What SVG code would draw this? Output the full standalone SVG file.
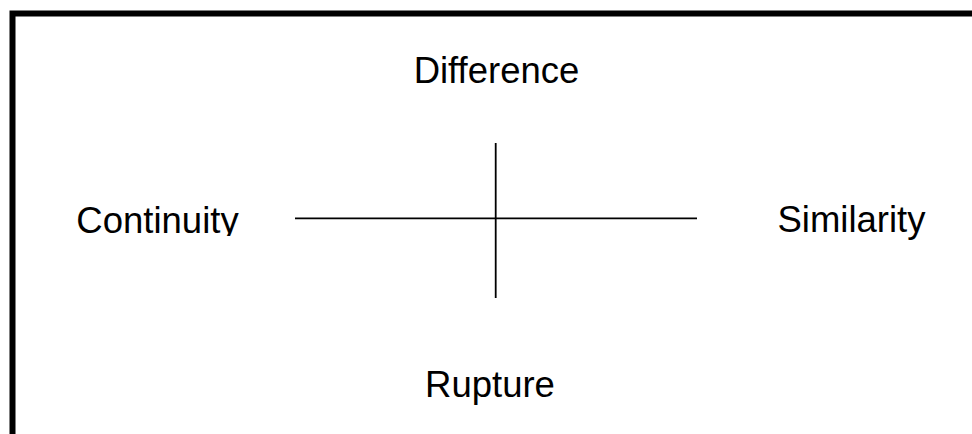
<svg xmlns="http://www.w3.org/2000/svg" width="972" height="434" viewBox="0 0 972 434">
<style>
.lbl{font-family:"Liberation Sans",Arial,sans-serif;font-size:36.5px;fill:#000;text-anchor:middle}
.ax{stroke:#000;stroke-width:1.8;fill:none}
</style>
<defs><clipPath id="clipC"><rect x="0" y="0" width="300" height="236"/></clipPath></defs>
<rect width="972" height="434" fill="#fff"/>
<path id="frame" d="M12.5,440 V13.5 H980" fill="none" stroke="#000" stroke-width="6"/>
<g id="connectors">
<line class="ax" x1="295" y1="218.3" x2="697" y2="218.3"/>
<line class="ax" x1="495.7" y1="143" x2="495.7" y2="298"/>
</g>
<g id="difference"><text class="lbl" x="496.5" y="83">Difference</text></g>
<g id="rupture"><text class="lbl" x="490" y="396.5">Rupture</text></g>
<g id="continuity" clip-path="url(#clipC)"><text class="lbl" x="157.5" y="233">Continuity</text></g>
<g id="similarity"><text class="lbl" x="851.5" y="232">Similarity</text></g>
</svg>
